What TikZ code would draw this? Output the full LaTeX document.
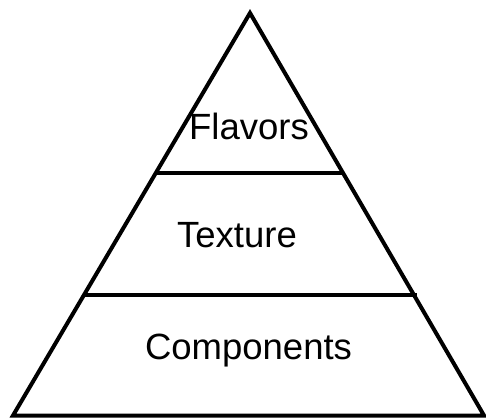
\documentclass[tikz,border=0pt]{standalone}
\usepackage{fontspec}
\setmainfont{Liberation Sans}
\begin{document}
\begin{tikzpicture}[x=1pt,y=-1pt,
  edge/.style={line width=4pt, line join=miter},
  tier/.style={anchor=base, inner sep=0pt, font=\fontsize{36.5}{42}\selectfont}]
\useasboundingbox (0,0) rectangle (486,417);
% outline of the pyramid
\coordinate (apex) at (250,13);
\coordinate (bl) at (13,415.5);
\coordinate (br) at (484,415.5);
\draw[edge] (bl) -- (apex) -- (br) -- cycle;
% tier dividers
\draw[edge] (156.5,173) -- (343.5,173);
\draw[edge] (83,295) -- (417,295);
% tier labels
\node[tier] (flavors) at (249,139.5) {Flavors};
\node[tier] (texture) at (237,247.5) {Texture};
\node[tier] (components) at (248.5,359.5) {Components};
\end{tikzpicture}
\end{document}
